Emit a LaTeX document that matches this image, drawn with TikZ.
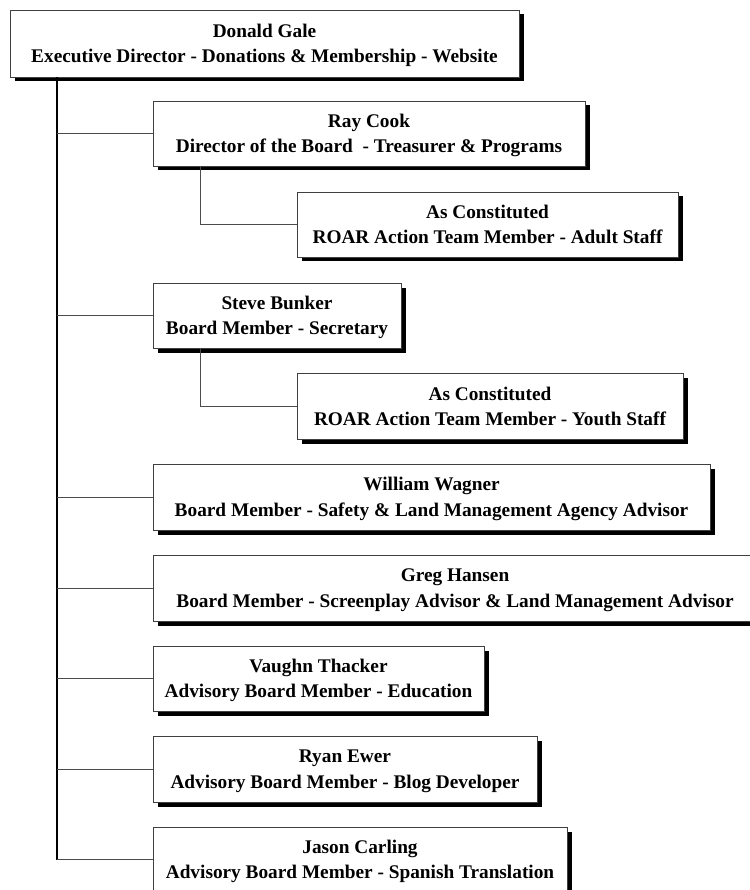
\documentclass[tikz,border=0pt]{standalone}
\usepackage{fontspec}
\setmainfont{Liberation Serif}
\usetikzlibrary{shadows}
\newcommand{\topstrut}{\rule{0pt}{17pt}}
\newcommand{\botstrut}{\rule[-3.5pt]{0pt}{3.5pt}}
\begin{document}
\begin{tikzpicture}[x=1pt,y=-1pt,
  person/.style={rectangle, draw=black!75, line width=0.9pt, fill=white,
    inner sep=0pt, align=center,
    font=\fontsize{19.3}{25.5}\selectfont\bfseries,
    general shadow={fill=black, shadow xshift=4.5pt, shadow yshift=-4.5pt}},
  trunk/.style={draw=black, line width=2pt},
  branch/.style={draw=black!70, line width=1pt}]
\useasboundingbox (0,0) rectangle (749,890);
\node[person, minimum width=509pt, minimum height=67pt] (don) at (264.5,43.5)
  {\topstrut Donald Gale\\Executive Director - Donations \& Membership - Website\botstrut};
\node[person, minimum width=432pt, minimum height=65pt] (ray) at (369,133.5)
  {\topstrut Ray Cook\\Director of the Board \ - Treasurer \& Programs\botstrut};
\node[person, minimum width=381pt, minimum height=65pt] (adult) at (487.5,224.5)
  {\topstrut As Constituted\\ROAR Action Team Member - Adult Staff\botstrut};
\node[person, minimum width=248pt, minimum height=65pt] (steve) at (277,315.5)
  {\topstrut Steve Bunker\\Board Member - Secretary\botstrut};
\node[person, minimum width=386pt, minimum height=66pt] (youth) at (490,406)
  {\topstrut As Constituted\\ROAR Action Team Member - Youth Staff\botstrut};
\node[person, minimum width=557pt, minimum height=66pt] (will) at (431.5,497)
  {\topstrut William Wagner\\Board Member - Safety \& Land Management Agency Advisor\botstrut};
\node[person, minimum width=647pt, minimum height=66pt] (greg) at (476.5,588)
  {\topstrut Greg Hansen\hspace*{43pt}\\Board Member - Screenplay Advisor \& Land Management Advisor\hspace*{43pt}\botstrut};
\node[person, minimum width=331pt, minimum height=65pt] (vaughn) at (318.5,678.5)
  {\topstrut Vaughn Thacker\\Advisory Board Member - Education\botstrut};
\node[person, minimum width=384pt, minimum height=66pt] (ryan) at (345,769)
  {\topstrut Ryan Ewer\\Advisory Board Member - Blog Developer\botstrut};
\node[person, minimum width=414pt, minimum height=65pt] (jason) at (360,859.5)
  {\topstrut Jason Carling\\Advisory Board Member - Spanish Translation\botstrut};
\coordinate (tr) at ([xshift=47pt]don.south west);
\draw[trunk] (tr) -- (tr |- jason.west);
\foreach \n in {ray,steve,will,greg,vaughn,ryan,jason}
  \draw[branch] (tr |- \n.west) -- (\n.west);
\draw[branch] ([xshift=48pt]ray.south west) |- (adult.west);
\draw[branch] ([xshift=48pt]steve.south west) |- (youth.west);
\end{tikzpicture}
\end{document}
